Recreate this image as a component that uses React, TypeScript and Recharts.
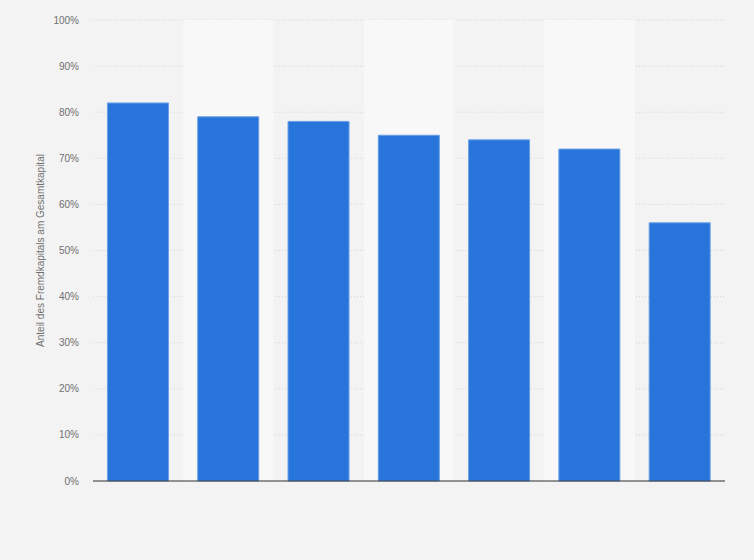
import { BarChart, Bar, XAxis, YAxis, CartesianGrid, ReferenceArea, ReferenceLine } from 'recharts';

const categories = ['A', 'B', 'C', 'D', 'E', 'F', 'G'];
const shares = [82, 79, 78, 75, 74, 72, 56];
const yTicks = [0, 10, 20, 30, 40, 50, 60, 70, 80, 90, 100];

const data = categories.map((name, i) => ({ name, value: shares[i] }));
const shadedBands = categories.filter((_, i) => i % 2 === 1);

const font = '"Liberation Sans", Arial, sans-serif';

export default function App() {
  return (
    <div
      style={{
        position: 'absolute',
        left: 0,
        top: 0,
        width: 754,
        height: 560,
        background: '#f3f3f3',
        fontFamily: font,
      }}
    >
      <BarChart
        width={754}
        height={560}
        data={data}
        margin={{ top: 20, right: 29, left: 0, bottom: 78 }}
        barCategoryGap="16%"
      >
        {shadedBands.map((c) => (
          <ReferenceArea key={c} x1={c} x2={c} y1={0} y2={100} fill="#f8f8f8" fillOpacity={1} stroke="none" ifOverflow="hidden" />
        ))}
        <CartesianGrid vertical={false} stroke="#d4d4d4" strokeDasharray="1 2" />
        <XAxis dataKey="name" tick={false} tickLine={false} axisLine={false} height={1} />
        <YAxis
          width={93}
          domain={[0, 100]}
          ticks={yTicks}
          tickFormatter={(v) => `${v}%`}
          axisLine={false}
          tickLine={false}
          tickMargin={8}
          tick={{ fontSize: 10, fill: '#707070', fontFamily: font }}
          label={{
            value: 'Anteil des Fremdkapitals am Gesamtkapital',
            angle: -90,
            position: 'center',
            dx: -6,
            style: { fontSize: 10, fill: '#707070', fontFamily: font, textAnchor: 'middle' },
          }}
        />
        <Bar dataKey="value" fill="#2775db" stroke="#6a9fe6" strokeWidth={1} isAnimationActive={false} />
        <ReferenceLine y={0} stroke="#333" strokeWidth={1} />
      </BarChart>
    </div>
  );
}
